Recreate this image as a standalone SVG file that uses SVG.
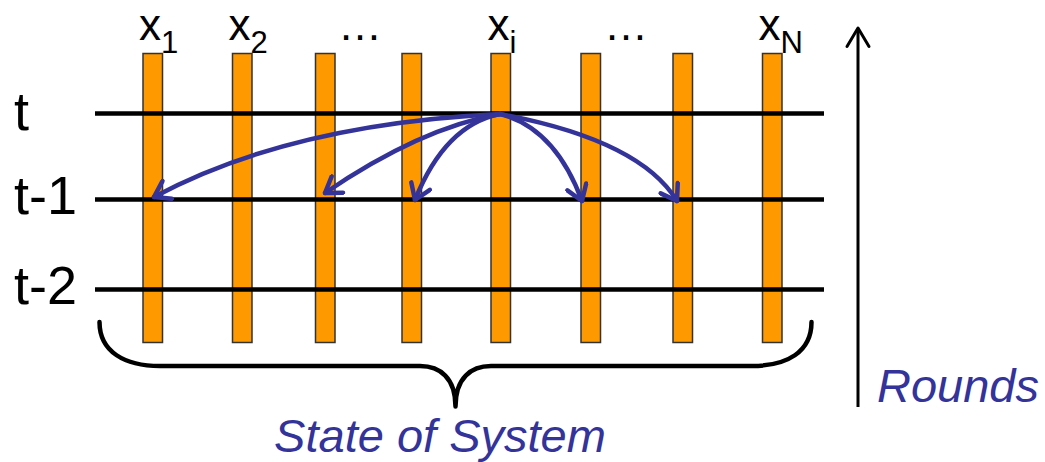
<svg xmlns="http://www.w3.org/2000/svg" width="1045" height="462" viewBox="0 0 1045 462">
<style>
.bar{fill:#FF9900;stroke:#333;stroke-width:1.5}
.row{stroke:#000;stroke-width:4.5}
.lbl{font-family:"Liberation Sans",Arial,sans-serif;fill:#000}
.ital{font-family:"Liberation Sans",Arial,sans-serif;font-style:italic;fill:#333399}
.arr{fill:none;stroke:#333399;stroke-width:4.5;stroke-linecap:round;marker-end:url(#head)}
</style>
<defs>
<marker id="head" viewBox="-18 -12 22 24" markerWidth="22" markerHeight="24" refX="0" refY="0" orient="auto" markerUnits="userSpaceOnUse">
<path d="M-15,-10 L0,0 L-15,10" fill="none" stroke="#333399" stroke-width="4.5" stroke-linecap="round" stroke-linejoin="round"/>
</marker>
</defs>
<rect width="1045" height="462" fill="#fff"/>
<g id="bars">
<rect id="bar1" class="bar" x="143" y="53.5" width="19.5" height="289"/>
<rect id="bar2" class="bar" x="232.5" y="53.5" width="19.5" height="289"/>
<rect id="bar3" class="bar" x="315.5" y="53.5" width="19.5" height="289"/>
<rect id="bar4" class="bar" x="402" y="53.5" width="19.5" height="289"/>
<rect id="bar5" class="bar" x="491" y="53.5" width="19.5" height="289"/>
<rect id="bar6" class="bar" x="581" y="53.5" width="19.5" height="289"/>
<rect id="bar7" class="bar" x="673" y="53.5" width="19.5" height="289"/>
<rect id="bar8" class="bar" x="762.5" y="53.5" width="19.5" height="289"/>
</g>
<g id="rows">
<line class="row" x1="95" y1="113.5" x2="824" y2="113.5"/>
<line class="row" x1="95" y1="199.5" x2="824" y2="199.5"/>
<line class="row" x1="95" y1="289.5" x2="824" y2="289.5"/>
</g>
<g id="row-labels">
<text class="lbl" x="14" y="130" font-size="54">t</text>
<text class="lbl" x="14" y="213.5" font-size="54">t-1</text>
<text class="lbl" x="14" y="304" font-size="54">t-2</text>
</g>
<g id="col-labels">
<text class="lbl" x="139" y="40" font-size="44">x<tspan font-size="31" dy="12.5">1</tspan></text>
<text class="lbl" x="228.5" y="40" font-size="44">x<tspan font-size="31" dy="12.5">2</tspan></text>
<text class="lbl" x="338" y="40" font-size="44">…</text>
<text class="lbl" x="487.5" y="40" font-size="44">x<tspan font-size="31" dy="12.5">i</tspan></text>
<text class="lbl" x="604" y="40" font-size="44">…</text>
<text class="lbl" x="758.5" y="40" font-size="44">x<tspan font-size="31" dy="12.5">N</tspan></text>
</g>
<g id="connectors">
<path class="arr" d="M500,114 Q290,124 154,197"/>
<path class="arr" d="M500,114 Q420,128 325,193"/>
<path class="arr" d="M500,114 Q445,125 415,200"/>
<path class="arr" d="M500,114 Q555,128 582,201"/>
<path class="arr" d="M500,114 Q640,140 677,201"/>
</g>
<g id="brace">
<path d="M99.5,322 C99.5,352 125,366 160,366 L420,366 C440,366 455.5,378 455.5,406.5 C455.5,378 471,366 491,366 L752,366 C787,366 811.5,352 811.5,322" fill="none" stroke="#000" stroke-width="4.5" stroke-linecap="round" stroke-linejoin="round"/>
<text class="ital" x="440" y="451.5" font-size="47" text-anchor="middle">State of System</text>
</g>
<g id="rounds">
<line x1="858" y1="29" x2="858" y2="407" stroke="#000" stroke-width="3"/>
<path d="M847,46.5 L858,28 L869,46.5" fill="none" stroke="#000" stroke-width="3" stroke-linecap="round" stroke-linejoin="round"/>
<text class="ital" x="877" y="401.5" font-size="47">Rounds</text>
</g>
</svg>
